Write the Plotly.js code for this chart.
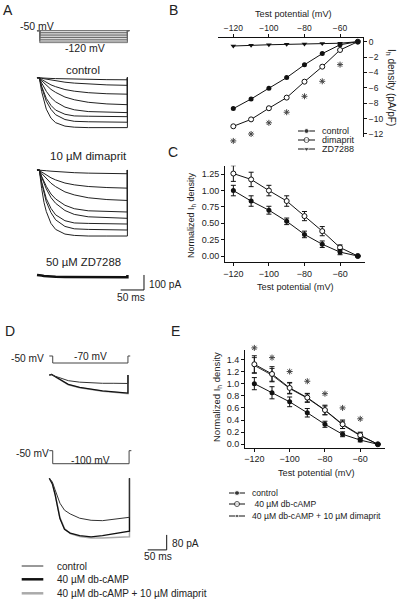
<!DOCTYPE html>
<html><head><meta charset="utf-8">
<script src="https://cdn.plot.ly/plotly-3.0.1.min.js"></script>
<style>body{margin:0;background:#fff}#chart{width:400px;height:604px}</style>
</head><body><div id="chart"></div>
<script>
// ================= DATA =================
const testPotential = [-120,-110,-100,-90,-80,-70,-60,-50];
const sigPotential  = [-120,-110,-100,-90,-80,-70,-60];
const axisTicksMV = [-120,-100,-80,-60];

// Panel B: Ih density (pA/pF)
const densityControl  = [-8.7,-7.45,-6.05,-4.67,-3.0,-1.55,-0.4,0];
const densityDimaprit = [-11.0,-10.1,-8.65,-7.27,-5.2,-3.25,-1.08,0];
const densityZD7288   = [-0.56,-0.45,-0.4,-0.35,-0.3,-0.25,-0.2,0];
const densityTicks = [0,-2,-4,-6,-8,-10,-12];

// Panel C: normalized Ih density
const normControlC     = [1.00,0.84,0.70,0.53,0.33,0.18,0.06,0];
const normControlCErr  = [0.08,0.08,0.06,0.05,0.05,0.05,0.04,0];
const normDimapritC    = [1.26,1.17,1.00,0.84,0.61,0.38,0.13,0];
const normDimapritCErr = [0.12,0.11,0.08,0.08,0.07,0.07,0.04,0];
const normTicksC = [0,0.25,0.5,0.75,1.0,1.25];

// Panel E: normalized Ih density
const normControlE     = [1.00,0.85,0.70,0.52,0.33,0.165,0.07,0];
const normControlEErr  = [0.10,0.10,0.08,0.07,0.05,0.04,0.03,0];
const normCampE        = [1.32,1.16,0.93,0.77,0.565,0.33,0.15,0];
const normCampEErr     = [0.14,0.12,0.09,0.07,0.08,0.07,0.05,0];
const normCampDimE     = [1.30,1.14,0.92,0.76,0.56,0.32,0.14,0];
const normCampDimEErr  = [0.13,0.11,0.09,0.07,0.07,0.06,0.05,0];
const normTicksE = [0,0.2,0.4,0.6,0.8,1.0,1.2,1.4];

// Panel A: current recordings (time in ms, current in pA)
const timeA = [0,5,10,15,20,30,40,60,80,110,150,194,194];
const controlTracesA = [
  [0,0,-1,-2,-3,-5,-6,-8,-10,-12,-13,-14,0],
  [0,0,-4,-7,-10,-17,-21,-30,-36,-43,-48,-51,0],
  [0,0,-12,-22,-31,-48,-60,-79,-90,-100,-107,-110,0],
  [0,0,-20,-36,-51,-78,-98,-129,-147,-164,-175,-180,0],
  [0,0,-35,-65,-91,-133,-161,-196,-214,-226,-231,-233,0],
  [0,0,-57,-101,-138,-185,-216,-244,-255,-257,-260,-260,0],
  [0,0,-65,-116,-157,-211,-247,-279,-291,-294,-297,-297,0],
  [0,0,-93,-163,-210,-270,-300,-323,-330,-333,-333,-333,0]
];
const dimapritTracesA = [
  [0,0,-2,-4,-5,-8,-11,-15,-18,-21,-23,-25,0],
  [0,0,-13,-24,-34,-52,-66,-87,-99,-110,-117,-121,0],
  [0,0,-23,-41,-57,-88,-111,-146,-166,-185,-197,-203,0],
  [0,0,-42,-78,-109,-160,-193,-235,-258,-272,-277,-280,0],
  [0,0,-48,-90,-126,-184,-222,-270,-296,-312,-319,-322,0],
  [0,0,-79,-140,-191,-256,-299,-338,-353,-356,-360,-360,0],
  [0,0,-88,-156,-212,-284,-332,-376,-392,-396,-400,-400,0],
  [0,0,-123,-216,-277,-356,-396,-427,-436,-440,-440,-440,0]
];
const zdTraceA = [0,0,-4,-7,-9,-11,-12,-13,-14,-14,-15,-15,0];
// Panel A voltage protocol
const protocolTimeA = [0,6,6,194,194,198];
const stepPotentials = [-50,-60,-70,-80,-90,-100,-110,-120];

// Panel D recordings
const timeD1 = [0,6,15,30,50,80,110,140,170,207,207];
const d1Control  = [0,3,-6,-18,-30,-38,-42,-44,-44,-45,0];
const d1Camp     = [0,3,-8,-25,-50,-66,-76,-84,-90,-96,0];
const d1CampDim  = [0,3,-8,-26,-52,-68,-78,-86,-92,-99,0];
const timeD2 = [0,8,15,28,40,55,80,110,140,170,195,211,211];
const d2Control  = [0,-20,-60,-133,-170,-190,-213,-224,-226,-219,-212,-208,0];
const d2Camp     = [0,-30,-85,-215,-272,-292,-306,-312,-306,-297,-290,-282,0];
const d2CampDim  = [0,-28,-82,-210,-268,-295,-310,-318,-318,-315,-314,-312,0];
const protocolTimeD1 = [0,9,9,207,207,213];
const protocolTimeD2 = [0,9,9,210,210,216];
const stepD1 = -70, stepD2 = -100, holdingPotential = -50;

// ================= BUILD =================
const FONT = 'Liberation Sans, Arial, sans-serif';
const TXT = '#222', LN = '#111';
const W = 400, H = 604;
const px = x => x / W, py = y => 1 - y / H;

const traces = [];
// ---- Panel B ----
traces.push({x:testPotential, y:densityZD7288, xaxis:'x', yaxis:'y', mode:'lines+markers',
  line:{color:LN,width:1}, marker:{symbol:'triangle-down',size:5,color:LN}, cliponaxis:false});
traces.push({x:testPotential, y:densityDimaprit, xaxis:'x', yaxis:'y', mode:'lines+markers',
  line:{color:LN,width:1}, marker:{symbol:'circle',size:5,color:'#fff',line:{width:1,color:LN}}, cliponaxis:false});
traces.push({x:testPotential, y:densityControl, xaxis:'x', yaxis:'y', mode:'lines+markers',
  line:{color:LN,width:1}, marker:{symbol:'circle',size:5,color:LN}, cliponaxis:false});

// ---- Panel C ----
traces.push({x:testPotential, y:normDimapritC, xaxis:'x2', yaxis:'y2', mode:'lines+markers',
  line:{color:LN,width:1}, marker:{symbol:'circle',size:5,color:'#fff',line:{width:1,color:LN}},
  error_y:{type:'data',array:normDimapritCErr,thickness:1,width:2.5,color:LN}, cliponaxis:false});
traces.push({x:testPotential, y:normControlC, xaxis:'x2', yaxis:'y2', mode:'lines+markers',
  line:{color:LN,width:1}, marker:{symbol:'circle',size:5,color:LN},
  error_y:{type:'data',array:normControlCErr,thickness:1,width:2.5,color:LN}, cliponaxis:false});

// ---- Panel E ----
traces.push({x:testPotential, y:normCampDimE, xaxis:'x3', yaxis:'y3', mode:'lines+markers',
  line:{color:'#333',width:1}, marker:{symbol:'circle',size:3,color:'#333'},
  error_y:{type:'data',array:normCampDimEErr,thickness:1,width:2.5,color:'#333'}, cliponaxis:false});
traces.push({x:testPotential, y:normCampE, xaxis:'x3', yaxis:'y3', mode:'lines+markers',
  line:{color:LN,width:1}, marker:{symbol:'circle',size:5,color:'#fff',line:{width:1,color:LN}},
  error_y:{type:'data',array:normCampEErr,thickness:1,width:2.5,color:LN}, cliponaxis:false});
traces.push({x:testPotential, y:normControlE, xaxis:'x3', yaxis:'y3', mode:'lines+markers',
  line:{color:LN,width:1}, marker:{symbol:'circle',size:5,color:LN},
  error_y:{type:'data',array:normControlEErr,thickness:1,width:2.5,color:LN}, cliponaxis:false});

// ---- Panel A recordings ----
stepPotentials.forEach(v => traces.push({x:protocolTimeA, y:[holdingPotential,holdingPotential,v,v,holdingPotential,holdingPotential],
  xaxis:'x4', yaxis:'y9', mode:'lines', line:{color:'#666',width:1}}));
controlTracesA.forEach(tr => traces.push({x:timeA, y:tr, xaxis:'x4', yaxis:'y4', mode:'lines',
  line:{color:'#222',width:1}}));
dimapritTracesA.forEach(tr => traces.push({x:timeA, y:tr, xaxis:'x4', yaxis:'y5', mode:'lines',
  line:{color:'#222',width:1}}));
traces.push({x:timeA, y:zdTraceA, xaxis:'x4', yaxis:'y6', mode:'lines', line:{color:'#111',width:2.5}});

// ---- Panel D recordings ----
[[protocolTimeD1,stepD1,'y10'],[protocolTimeD2,stepD2,'y11']].forEach(([t,v,ya]) => traces.push({x:t,
  y:[holdingPotential,holdingPotential,v,v,holdingPotential,holdingPotential], xaxis:'x5', yaxis:ya, mode:'lines',
  line:{color:'#444',width:1}}));
const dSets = [[timeD1,d1CampDim,d1Camp,d1Control,'y7'],[timeD2,d2CampDim,d2Camp,d2Control,'y8']];
dSets.forEach(([t,g,k,c,ya]) => {
  traces.push({x:t, y:g, xaxis:'x5', yaxis:ya, mode:'lines', line:{color:'#aaa',width:1.5}});
  traces.push({x:t, y:k, xaxis:'x5', yaxis:ya, mode:'lines', line:{color:'#111',width:1.3}});
  traces.push({x:t, y:c, xaxis:'x5', yaxis:ya, mode:'lines', line:{color:'#333',width:1}});
});

// ---- Legend glyphs (overlay pixel axis) ----
function legGlyph(x0, x1, y, marker){
  traces.push({x:[x0,(x0+x1)/2,x1], y:[y,y,y], xaxis:'x6', yaxis:'y12', mode:'lines+markers',
    line:{color:LN,width:1}, marker:Object.assign({}, marker, {size:[0,marker.size,0]}), cliponaxis:false});
}
legGlyph(298,315,131,{symbol:'circle',size:5,color:LN});
legGlyph(298,315,140,{symbol:'circle',size:5,color:'#fff',line:{width:1,color:LN}});
legGlyph(298,315,149,{symbol:'triangle-down',size:5,color:LN});
legGlyph(229,245,493,{symbol:'circle',size:5,color:LN});
legGlyph(229,245,504,{symbol:'circle',size:5,color:'#fff',line:{width:1,color:LN}});
legGlyph(229,245,516,{symbol:'circle',size:3,color:LN});

// ================= LAYOUT =================
const base = {showgrid:false, zeroline:false, showline:true, linecolor:LN, linewidth:1,
  ticks:'outside', ticklen:3, tickcolor:LN, tickwidth:1, tickfont:{family:FONT,size:9,color:TXT}, fixedrange:true};
const hidden = {visible:false, showgrid:false, zeroline:false, fixedrange:true};

const layout = {
  width:W, height:H, margin:{l:0,r:0,t:0,b:0}, paper_bgcolor:'#fff', plot_bgcolor:'rgba(0,0,0,0)',
  showlegend:false, font:{family:FONT,color:TXT},
  xaxis: Object.assign({}, base, {domain:[0.545,0.9075], range:[-128.6,-47.1], side:'top', anchor:'y',
    tickvals:axisTicksMV, tickfont:{family:FONT,size:8.5,color:TXT}}),
  yaxis: Object.assign({}, base, {domain:[0.7737,0.9371], range:[-12.35,0.48], side:'right', anchor:'x',
    tickvals:densityTicks, tickfont:{family:FONT,size:8.5,color:TXT}}),
  xaxis2: Object.assign({}, base, {domain:[0.5625,0.9125], range:[-124.7,-45.95], anchor:'y2', tickvals:axisTicksMV}),
  yaxis2: Object.assign({}, base, {domain:[0.5657,0.7257], range:[-0.096,1.38], anchor:'x2', tickvals:normTicksC, tickformat:'.2f'}),
  xaxis3: Object.assign({}, base, {domain:[0.6125,0.9625], range:[-125.3,-45.97], anchor:'y3', tickvals:axisTicksMV}),
  yaxis3: Object.assign({}, base, {domain:[0.2588,0.4205], range:[-0.056,1.555], anchor:'x3', tickvals:normTicksE, tickformat:'.1f'}),
  xaxis4: Object.assign({}, hidden, {domain:[0.075,0.375], range:[-15,242.5], anchor:'y4'}),
  yaxis4: Object.assign({}, hidden, {domain:[0.782,0.8813], range:[-360,40], anchor:'x4'}),
  yaxis5: Object.assign({}, hidden, {domain:[0.5993,0.7285], range:[-480,40], anchor:'x4'}),
  yaxis6: Object.assign({}, hidden, {domain:[0.5348,0.5497], range:[-40,20], anchor:'x4'}),
  yaxis9: Object.assign({}, hidden, {domain:[0.9278,0.9507], range:[-125,-45], anchor:'x4'}),
  xaxis5: Object.assign({}, hidden, {domain:[0.1,0.45], range:[-24.5,344], anchor:'y7'}),
  yaxis7: Object.assign({}, hidden, {domain:[0.3387,0.3853], range:[-130,20], anchor:'x5'}),
  yaxis8: Object.assign({}, hidden, {domain:[0.1026,0.2143], range:[-340,20], anchor:'x5'}),
  yaxis10: Object.assign({}, hidden, {domain:[0.3961,0.4135], range:[-75,-45], anchor:'x5'}),
  yaxis11: Object.assign({}, hidden, {domain:[0.2301,0.2560], range:[-105,-45], anchor:'x5'}),
  xaxis6: Object.assign({}, hidden, {domain:[0,1], range:[0,W], anchor:'y12'}),
  yaxis12: Object.assign({}, hidden, {domain:[0,1], range:[H,0], anchor:'x6'}),
  shapes: [], annotations: []
};

// convert axis units to paper coordinates (marks that sit outside their subplot areas)
const xP = (ax, v) => { const a = layout[ax]; return a.domain[0] + (v - a.range[0]) / (a.range[1] - a.range[0]) * (a.domain[1] - a.domain[0]); };
const yP = xP;

// significance asterisks (placed relative to the data, drawn on the overlay so they are never clipped)
const sigMarker = {symbol:'asterisk-open', size:5, color:'#444', line:{width:1,color:'#444'}};
function sigTrace(xa, ya, ys){
  traces.push({x:sigPotential.map(v=>W*xP(xa,v)), y:ys.map(v=>H*(1-yP(ya,v))), xaxis:'x6', yaxis:'y12',
    mode:'markers', marker:sigMarker, cliponaxis:false});
}
sigTrace('xaxis','yaxis', sigPotential.map((v,i)=>densityDimaprit[i]-1.9));
sigTrace('xaxis3','yaxis3', sigPotential.map((v,i)=>normCampE[i]+0.27));

function scaleBar(xa, ya, t, i, ms, pA){
  const xc = xP(xa,t), yc = yP(ya,i);
  layout.shapes.push({type:'line', xref:'paper', yref:'paper', x0:xc, x1:xc, y0:yc, y1:yP(ya,i+pA), line:{color:LN,width:1}});
  layout.shapes.push({type:'line', xref:'paper', yref:'paper', x0:xP(xa,t-ms), x1:xc, y0:yc, y1:yc, line:{color:LN,width:1}});
}
scaleBar('xaxis4','yaxis6',229.6,-100,50,100);
scaleBar('xaxis5','yaxis8',309,-382,50,80);

// D legend lines
[[566,'#333',1],[579.3,'#111',2.5],[593.3,'#aaa',2.5]].forEach(([y,c,w]) =>
  layout.shapes.push({type:'line', xref:'paper', yref:'paper', x0:px(21.7), x1:px(43.3), y0:py(y), y1:py(y), line:{color:c,width:w}}));

function ann(text, x, y, size, extra){
  layout.annotations.push(Object.assign({text, x:px(x), y:py(y), xref:'paper', yref:'paper', showarrow:false,
    xanchor:'center', yanchor:'middle', font:{family:FONT,size,color:TXT}}, extra||{}));
}
// panel letters
ann('A',8,10,14); ann('B',173,10,14); ann('C',173,152,14); ann('D',10,331,14); ann('E',175,331,14);
// Panel A texts
ann('-50 mV',37,26,10.5); ann('-120 mV',85,48.5,10.5);
ann('control',83,69.5,11.3); ann('10 µM dimaprit',88,156,11.5); ann('50 µM ZD7288',83,261.5,11.3);
ann('100 pA',147,284,10.2,{xanchor:'left'}); ann('50 ms',131,297,10.2);
// Panel B texts
ann('Test potential (mV)',293,14,9.2);
ann('I<sub>h</sub> density (pA/pF)',391,87,10,{textangle:90});
ann('control',320,131,9,{xanchor:'left'}); ann('dimaprit',320,140,9,{xanchor:'left'}); ann('ZD7288',320,149,9,{xanchor:'left'});
// Panel C texts
ann('Test potential (mV)',295,287,9.2);
ann('Normalized I<sub>h</sub> density',191,215,9,{textangle:-90});
// Panel D texts
ann('-50 mV',27,358,10.2); ann('-70 mV',90,356.5,10.2);
ann('-50 mV',32,453,10.2); ann('-100 mV',90,460.5,10.2);
ann('80 pA',170,543.5,10.2,{xanchor:'left'}); ann('50 ms',158,556.5,10.2);
ann('control',55,566,10,{xanchor:'left'}); ann('40 µM db-cAMP',55,579.3,10,{xanchor:'left'});
ann('40 µM db-cAMP + 10 µM dimaprit',55,593.3,10,{xanchor:'left'});
// Panel E texts
ann('Test potential (mV)',316,472.7,9.2);
ann('Normalized I<sub>h</sub> density',217,397,9.5,{textangle:-90});
ann('control',250,493,8.6,{xanchor:'left'}); ann(' 40 µM db-cAMP',250,504,8.6,{xanchor:'left'});
ann('40 µM db-cAMP + 10 µM dimaprit',250,516,8.6,{xanchor:'left'});

Plotly.newPlot('chart', traces, layout, {staticPlot:true, displayModeBar:false});
</script></body></html>
